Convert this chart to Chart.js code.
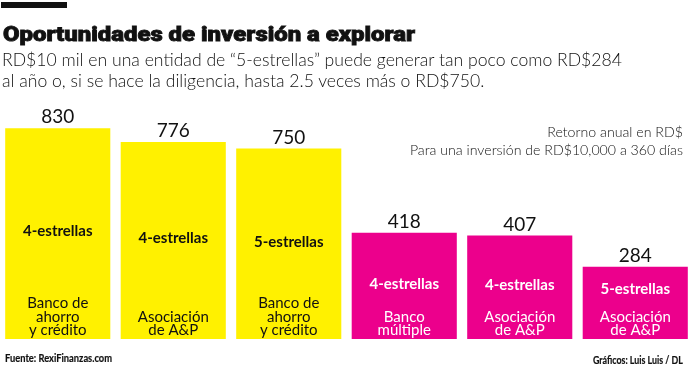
<!DOCTYPE html>
<html>
<head>
<meta charset="utf-8">
<script src="https://cdn.jsdelivr.net/npm/chart.js@4"></script>
<style>
  html, body { margin: 0; padding: 0; background: #fff; }
  #wrap { position: relative; width: 693px; height: 370px; overflow: hidden; font-family: Lato, "Open Sans", sans-serif; color: #111; }
  #chartBox { position: absolute; left: 0; top: 0; width: 693px; height: 370px; }
  .txt { position: absolute; white-space: nowrap; }
  #rule { position: absolute; left: 1px; top: 2px; width: 66px; height: 6px; background: #111; }
  #title { left: 3px; top: 22px; font-family: Roboto, Lato, sans-serif; font-size: 20px; font-weight: 900; line-height: 24px; -webkit-text-stroke: 0.8px #111; transform-origin: left top; }
  #sub { left: 2px; top: 49px; font-size: 17.5px; font-weight: 300; line-height: 21px; transform-origin: left top; }
  #note { right: 10px; top: 123px; font-size: 14px; font-weight: 300; line-height: 18px; text-align: right; transform-origin: right top; }
  #src { left: 5px; top: 350px; font-size: 12px; font-weight: 700; -webkit-text-stroke: 0.2px #111; transform-origin: left top; }
  #cred { right: 10px; top: 352px; font-size: 12px; font-weight: 700; -webkit-text-stroke: 0.2px #111; transform-origin: right top; }
</style>
</head>
<body>
<div id="wrap">
  <div id="chartBox"><canvas id="myChart"></canvas></div>
  <div id="rule"></div>
  <div class="txt" id="title">Oportunidades de inversión a explorar</div>
  <div class="txt" id="sub">RD$10 mil en una entidad de “5-estrellas” puede generar tan poco como RD$284<br>al año o, si se hace la diligencia, hasta 2.5 veces más o RD$750.</div>
  <div class="txt" id="note">Retorno anual en RD$<br>Para una inversión de RD$10,000 a 360 días</div>
  <div class="txt" id="src">Fuente: RexiFinanzas.com</div>
  <div class="txt" id="cred">Gráficos: Luis Luis / DL</div>
</div>
<script>
// retorno anual en RD$ por cada RD$10,000 a 360 dias
const entidades = [
  ['Banco de', 'ahorro', 'y crédito'],
  ['Asociación', 'de A&P'],
  ['Banco de', 'ahorro', 'y crédito'],
  ['Banco', 'múltiple'],
  ['Asociación', 'de A&P'],
  ['Asociación', 'de A&P']
];
const estrellas = ['4-estrellas', '4-estrellas', '5-estrellas', '4-estrellas', '4-estrellas', '5-estrellas'];
const retorno = [830, 776, 750, 418, 407, 284];

const YELLOW = '#fff100';
const MAGENTA = '#ec008c';
const barColor = (i) => i < 3 ? YELLOW : MAGENTA;
const textColor = (i) => i < 3 ? '#111' : '#fff';

// squeeze/stretch a text block so it spans the width seen in the print version
function fitWidth(id, w) {
  const el = document.getElementById(id);
  const actual = el.getBoundingClientRect().width;
  if (actual > 0) el.style.transform = 'scaleX(' + (w / actual) + ')';
}
fitWidth('title', 412);
fitWidth('sub', 620);
fitWidth('note', 273);
fitWidth('src', 107);
fitWidth('cred', 90);

// labels on and inside the bars
const barText = {
  id: 'barText',
  afterDatasetsDraw(chart) {
    const ctx = chart.ctx;
    const meta = chart.getDatasetMeta(0);
    const bottom = chart.chartArea.bottom;
    ctx.save();
    ctx.textAlign = 'center';
    meta.data.forEach((bar, i) => {
      // value above bar
      ctx.fillStyle = '#111';
      ctx.textBaseline = 'alphabetic';
      ctx.font = '400 19px Lato, sans-serif';
      ctx.fillText(String(retorno[i]), bar.x, bar.y - 5);

      // entity type at the bottom
      ctx.fillStyle = textColor(i);
      ctx.font = '400 15px Lato, sans-serif';
      const lines = entidades[i];
      lines.forEach((l, k) => {
        ctx.fillText(l, bar.x, bottom - 4 - (lines.length - 1 - k) * 13.5);
      });

      // rating in the middle
      const mid = Math.min((bar.y + bottom) / 2 - 2, 289);
      ctx.font = '700 15px Lato, sans-serif';
      ctx.textBaseline = 'middle';
      ctx.fillText(estrellas[i], bar.x, mid);
    });
    ctx.restore();
  }
};

const ctx = document.getElementById('myChart').getContext('2d');
const myChart = new Chart(ctx, {
  type: 'bar',
  data: {
    labels: estrellas.map((e, i) => e + ' ' + entidades[i].join(' ')),
    datasets: [{
      data: retorno,
      backgroundColor: retorno.map((v, i) => barColor(i)),
      borderWidth: 0,
      categoryPercentage: 1,
      barPercentage: 0.91
    }]
  },
  options: {
    responsive: true,
    maintainAspectRatio: false,
    animation: false,
    layout: { padding: { left: 0, right: 0, top: 85, bottom: 31 } },
    plugins: { legend: { display: false }, tooltip: { enabled: false } },
    scales: {
      x: { display: false },
      y: { display: false, min: 0, max: 1000 }
    }
  },
  plugins: [barText]
});
</script>
</body>
</html>
